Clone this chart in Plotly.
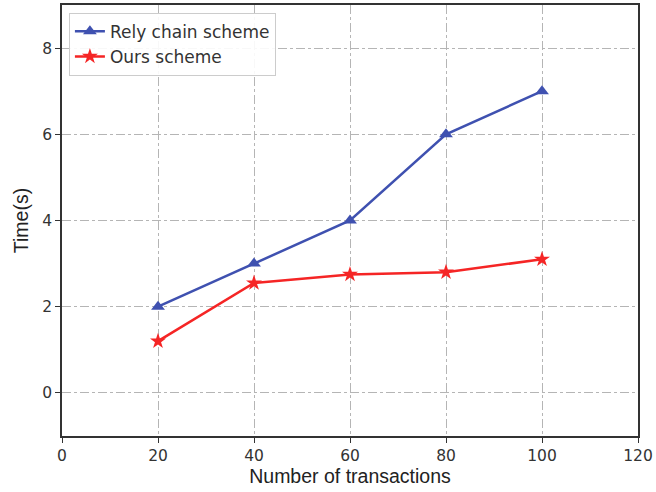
import plotly.graph_objects as go

transactions = [20, 40, 60, 80, 100]
rely_chain = [2, 3, 4, 6, 7]
ours = [1.2, 2.55, 2.75, 2.8, 3.1]
x_ticks = [0, 20, 40, 60, 80, 100, 120]
y_ticks = [0, 2, 4, 6, 8]

fig = go.Figure()
fig.add_trace(go.Scatter(
    x=transactions, y=rely_chain, mode="lines+markers", name="Rely chain scheme",
    line=dict(color="#3f51b0", width=2.5),
    marker=dict(symbol="triangle-up", size=12, color="#3f51b0"),
))
fig.add_trace(go.Scatter(
    x=transactions, y=ours, mode="lines+markers", name="Ours scheme",
    line=dict(color="#f52525", width=2.5),
    marker=dict(symbol="star", size=12, color="#f52525"),
))

axis_common = dict(
    showline=True, linecolor="#333333", linewidth=1.5, mirror=True,
    ticks="outside", ticklen=5, tickcolor="#333333",
    showgrid=True, gridcolor="#b5b5b5", griddash="dashdot", gridwidth=1,
    zeroline=False, automargin=False,
    tickfont=dict(family="DejaVu Sans", size=15.5, color="#333333"),
)

fig.update_xaxes(range=[0, 120], tickvals=x_ticks,
                 title=dict(text="Number of transactions", standoff=5,
                            font=dict(family="Liberation Sans", size=19.5, color="#222222")),
                 **axis_common)
fig.update_yaxes(range=[-1, 9], tickvals=y_ticks,
                 title=dict(text="Time(s)", standoff=8,
                            font=dict(family="Liberation Sans", size=19.5, color="#222222")),
                 **axis_common)

fig.update_layout(
    width=656, height=492,
    margin=dict(l=62, r=18, t=5, b=56),
    plot_bgcolor="white", paper_bgcolor="white",
    legend=dict(x=0.012, y=0.982, xanchor="left", yanchor="top",
                bgcolor="rgba(255,255,255,0.9)", bordercolor="#cccccc", borderwidth=1,
                font=dict(family="DejaVu Sans", size=17, color="#333333")),
    showlegend=True,
)

fig.write_html("out.html", config={"displayModeBar": False},
               post_script="document.body.style.margin='0';")
